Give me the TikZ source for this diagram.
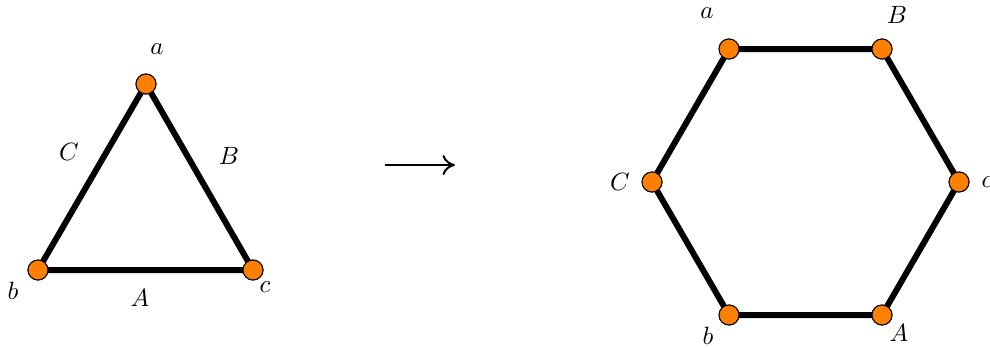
\documentclass[tikz,border=0pt]{standalone}
\usetikzlibrary{arrows.meta}
\definecolor{vorange}{RGB}{255,128,0}
\begin{document}
\begin{tikzpicture}[x=0.4pt,y=-0.4pt,
  vtx/.style={circle,fill=vorange,draw=black,line width=0.4pt,minimum size=8pt,inner sep=0pt},
  edge/.style={line width=2.4pt},
  lbl/.style={inner sep=0pt}]
\useasboundingbox (0,0) rectangle (990,347);
% triangle
\node[vtx] (ta) at (146,84) {};
\node[vtx] (tb) at (38,270) {};
\node[vtx] (tc) at (253,270) {};
\begin{scope}[on background layer/.style={}]
\end{scope}
\draw[edge] (ta.center) -- (tb.center) -- (tc.center) -- cycle;
\node[vtx] at (ta) {};
\node[vtx] at (tb) {};
\node[vtx] at (tc) {};
\node[lbl] (la) at (157,49) {$a$};
\node[lbl] (lC) at (69,152) {$C$};
\node[lbl] (lB) at (229,156) {$B$};
\node[lbl] (lb) at (13,291) {$b$};
\node[lbl] (lA) at (140,298) {$A$};
\node[lbl] (lc) at (265,287) {$c$};
% arrow
\coordinate (arrs) at (385,165);
\coordinate (arre) at (455,165);
\draw[line width=0.8pt,-{To[length=5pt,width=8pt]}] (arrs) -- (arre);
% hexagon
\node[vtx] (ha) at (729,49) {};
\node[vtx] (hB) at (882,49) {};
\node[vtx] (hc) at (959,182) {};
\node[vtx] (hA) at (882,315) {};
\node[vtx] (hb) at (729,315) {};
\node[vtx] (hC) at (652,182) {};
\draw[edge] (ha.center) -- (hB.center) -- (hc.center) -- (hA.center) -- (hb.center) -- (hC.center) -- cycle;
\foreach \n in {ha,hB,hc,hA,hb,hC} \node[vtx] at (\n) {};
\node[lbl] (Ha) at (707,13) {$a$};
\node[lbl] (HB) at (897,15) {$B$};
\node[lbl] (HC) at (620,182) {$C$};
\node[lbl] (Hc) at (987,182) {$c$};
\node[lbl] (Hb) at (708,336) {$b$};
\node[lbl] (HA) at (899,333) {$A$};
\end{tikzpicture}
\end{document}
